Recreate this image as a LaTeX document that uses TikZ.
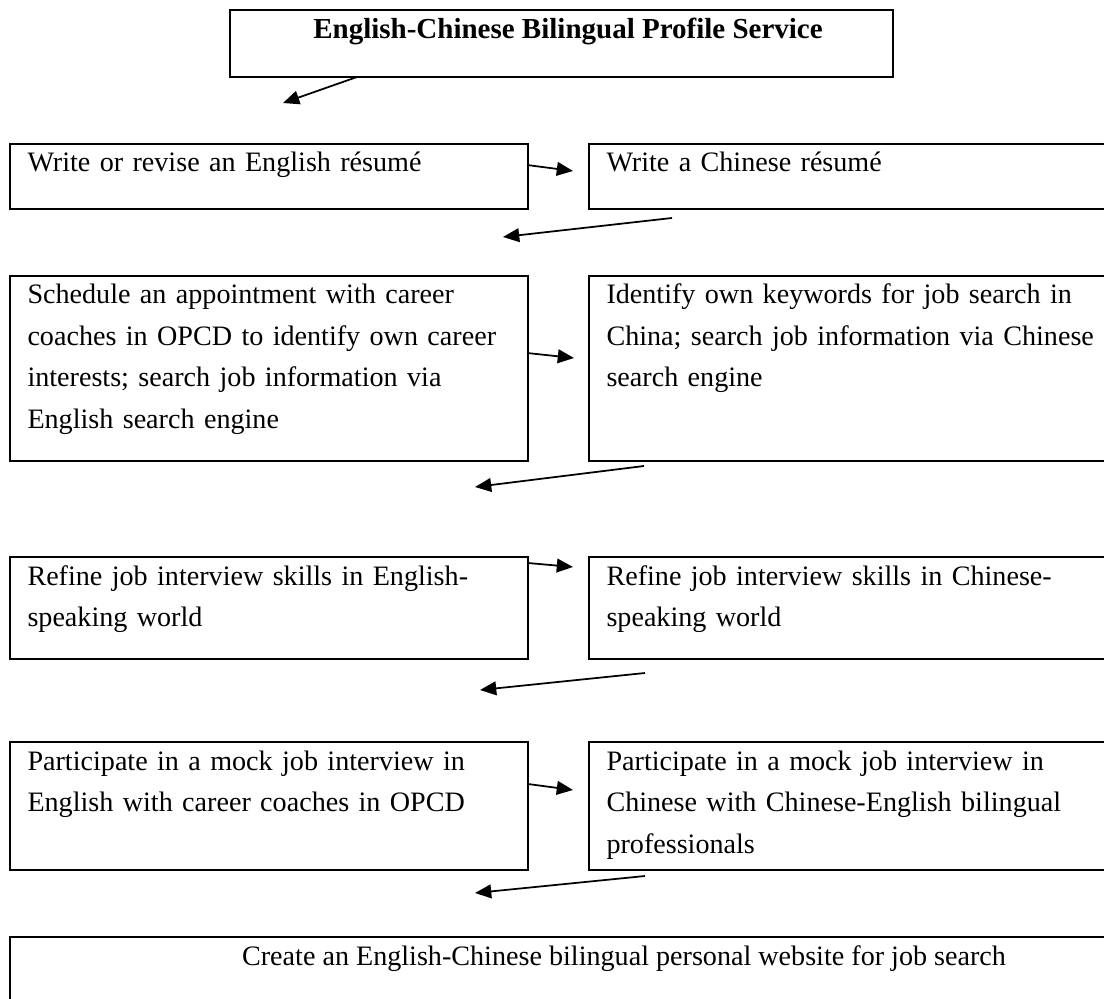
\documentclass[tikz,border=0pt]{standalone}
\usepackage{fontspec}
\setmainfont{Liberation Serif}
\usetikzlibrary{positioning,arrows.meta}

\tikzset{
  cell/.style={draw,line width=1pt,anchor=north west,inner sep=0pt,outer sep=0pt},
  txt/.style={anchor=base west,inner sep=0pt,text width=520*0.4pt,align=left},
  arr/.style={line width=.7pt,-{Triangle[length=6.5pt,width=5.5pt]}}
}

\begin{document}
\begin{tikzpicture}[x=0.4pt,y=-0.4pt,font=\fontsize{11.25}{16.6}\selectfont]
\useasboundingbox (0,0) rectangle (1104,998);
\clip (0,0) rectangle (1104,998);

% heading
\node[cell,minimum width=663*0.4pt,minimum height=67*0.4pt](head) at (230,10){};
\node[anchor=base,inner sep=0pt,font=\fontsize{11.6}{16.6}\selectfont\bfseries](headtxt) at (568,39){English-Chinese Bilingual Profile Service};

% two columns, one row each step
\foreach \yy/\hh/\ltext/\rtext[count=\i] in {
  144/65/{Write or revise an English résumé}/{Write a Chinese résumé},
  276/185/{Schedule an appointment with career\\coaches in OPCD to identify own career\\interests; search job information via\\English search engine}/{Identify own keywords for job search in\\China; search job information via Chinese\\search engine},
  557/102/{Refine job interview skills in English-\\speaking world}/{Refine job interview skills in Chinese-\\speaking world},
  742/128/{Participate in a mock job interview in\\English with career coaches in OPCD}/{Participate in a mock job interview in\\Chinese with Chinese-English bilingual\\professionals}
}{
  \node[cell,minimum width=518*0.4pt,minimum height=\hh*0.4pt](eng\i) at (10,\yy){};
  \node[cell,minimum width=540*0.4pt,minimum height=\hh*0.4pt](chn\i) at (589,\yy){};
  \node[txt](engtxt\i) at (27,\yy+28){\ltext};
  \node[txt](chntxt\i) at (606,\yy+28){\rtext};
}

% last step
\node[cell,minimum width=1300*0.4pt,minimum height=100*0.4pt](web) at (10,937){};
\node[anchor=base,inner sep=0pt](webtxt) at (624,965){Create an English-Chinese bilingual personal website for job search};

% arrows
\foreach \sx/\sy/\ex/\ey[count=\i] in {
  357/77/283/103,
  527/165/573/171,
  672/218/503/237,
  527/353/574/358,
  644/466/475/487,
  528/563/573/567,
  645/673/480/690,
  528/784/573/790,
  645/876/475/893
}{
  \coordinate (a\i) at (\sx,\sy);
  \coordinate (b\i) at (\ex,\ey);
  \draw[arr] (a\i) -- (b\i);
}
\end{tikzpicture}
\end{document}
